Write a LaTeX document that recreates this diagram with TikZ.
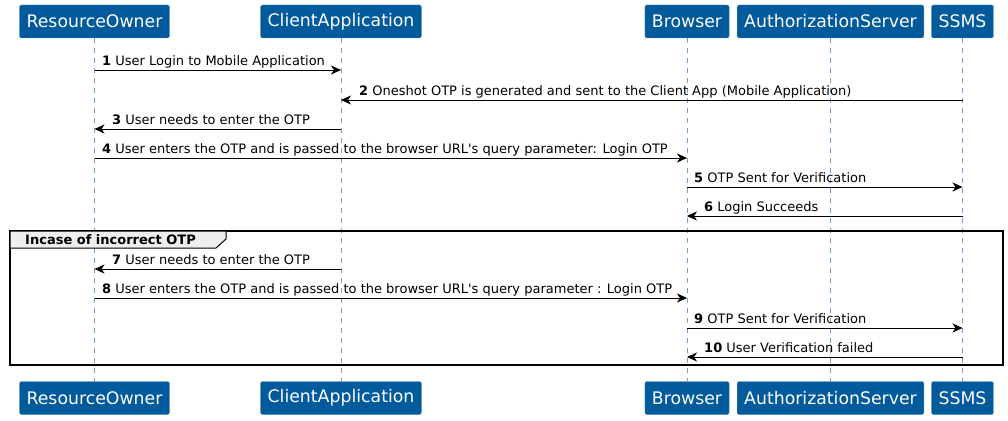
\documentclass[tikz,border=0pt]{standalone}
\usepackage{fontspec}
\setmainfont{DejaVu Sans}
\usetikzlibrary{arrows.meta}
\definecolor{partblue}{RGB}{0,90,156}
\definecolor{lifeblue}{RGB}{110,160,205}
\definecolor{groupgray}{RGB}{238,238,238}
\tikzset{
  part/.style={fill=partblue, draw=partblue!70!white, rounded corners=2pt, text=white,
    font=\fontsize{17.3}{20}\selectfont, minimum height=33pt, inner xsep=7pt},
  life/.style={draw=lifeblue, dash pattern=on 5pt off 5pt, line width=0.8pt},
  msg/.style={-{Stealth[length=10pt,width=9pt,inset=3pt]}, line width=0.8pt},
  lbl/.style={anchor=base west, inner sep=0pt, font=\fontsize{13}{15}\selectfont}
}
\begin{document}
\begin{tikzpicture}[x=1pt,y=-1pt]
\useasboundingbox (0,0) rectangle (1008,420);
% participants, top and bottom
\node[part] (roT) at (94.5,21.5) {ResourceOwner};
\node[part] (caT) at (341,21.5) {ClientApplication};
\node[part] (brT) at (687,21.5) {Browser};
\node[part] (asT) at (830.5,21.5) {AuthorizationServer};
\node[part] (ssT) at (962.5,21.5) {SSMS};
\node[part] (roB) at (94.5,398) {ResourceOwner};
\node[part] (caB) at (341,398) {ClientApplication};
\node[part] (brB) at (687,398) {Browser};
\node[part] (asB) at (830.5,398) {AuthorizationServer};
\node[part] (ssB) at (962.5,398) {SSMS};
% lifelines
\draw[life] (roT) -- (roB);
\draw[life] (caT) -- (caB);
\draw[life] (brT) -- (brB);
\draw[life] (asT) -- (asB);
\draw[life] (ssT) -- (ssB);
% messages
\draw[msg] (roT |- 0,70) -- (caT |- 0,70);
\node[lbl] (m1) at (102,65) {\textbf{1} User Login to Mobile Application};
\draw[msg] (ssT |- 0,100) -- (caT |- 0,100);
\node[lbl] (m2) at (359,95) {\textbf{2} Oneshot OTP is generated and sent to the Client App (Mobile Application)};
\draw[msg] (caT |- 0,129) -- (roT |- 0,129);
\node[lbl] (m3) at (112,124) {\textbf{3} User needs to enter the OTP};
\draw[msg] (roT |- 0,158) -- (brT |- 0,158);
\node[lbl] (m4) at (102,153) {\textbf{4} User enters the OTP and is passed to the browser URL\textquotesingle s query parameter: Login OTP};
\draw[msg] (brT |- 0,187) -- (ssT |- 0,187);
\node[lbl] (m5) at (694,182) {\textbf{5} OTP Sent for Verification};
\draw[msg] (ssT |- 0,216) -- (brT |- 0,216);
\node[lbl] (m6) at (704,211) {\textbf{6} Login Succeeds};
% group
\draw[line width=1.5pt] (10,231) rectangle (1003,365);
\draw[fill=groupgray, line width=1pt] (10,231) -- (226,231) -- (226,239) -- (216,248) -- (10,248) -- cycle;
\node[lbl, font=\fontsize{13}{15}\selectfont\bfseries] (g1) at (25,244.5) {Incase of incorrect OTP};
\draw[msg] (caT |- 0,269) -- (roT |- 0,269);
\node[lbl] (m7) at (112,264) {\textbf{7} User needs to enter the OTP};
\draw[msg] (roT |- 0,298) -- (brT |- 0,298);
\node[lbl] (m8) at (102,293) {\textbf{8} User enters the OTP and is passed to the browser URL\textquotesingle s query parameter : Login OTP};
\draw[msg] (brT |- 0,328) -- (ssT |- 0,328);
\node[lbl] (m9) at (694,323) {\textbf{9} OTP Sent for Verification};
\draw[msg] (ssT |- 0,357) -- (brT |- 0,357);
\node[lbl] (m10) at (704,352) {\textbf{10} User Verification failed};
\end{tikzpicture}
\end{document}
